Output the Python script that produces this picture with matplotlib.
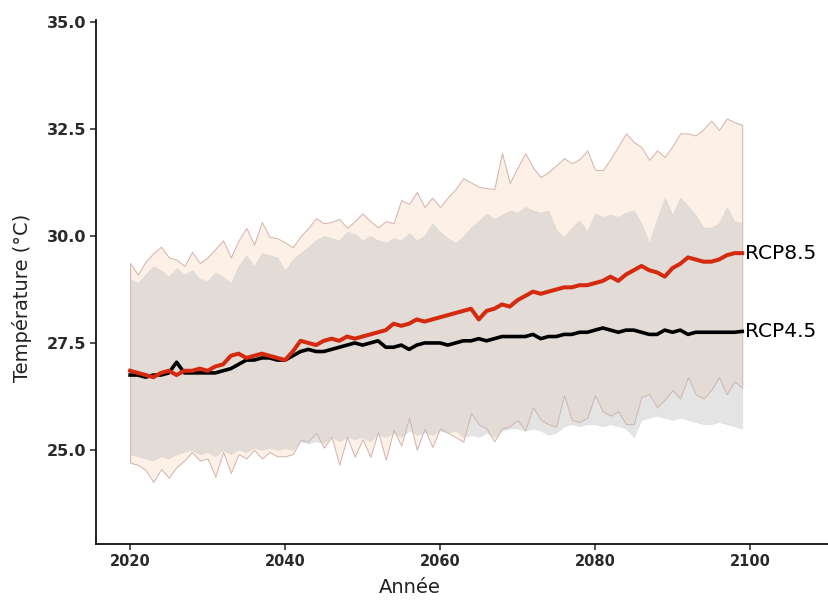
import numpy as np
import matplotlib
matplotlib.use("Agg")
import matplotlib.pyplot as plt

years = np.arange(2020, 2100)

rcp85_mean = [26.85, 26.80, 26.75, 26.70, 26.80, 26.85, 26.75, 26.85, 26.85, 26.90,
              26.85, 26.95, 27.00, 27.20, 27.25, 27.15, 27.20, 27.25, 27.20, 27.15,
              27.10, 27.30, 27.55, 27.50, 27.45, 27.55, 27.60, 27.55, 27.65, 27.60,
              27.65, 27.70, 27.75, 27.80, 27.95, 27.90, 27.95, 28.05, 28.00, 28.05,
              28.10, 28.15, 28.20, 28.25, 28.30, 28.05, 28.25, 28.30, 28.40, 28.35,
              28.50, 28.60, 28.70, 28.65, 28.70, 28.75, 28.80, 28.80, 28.85, 28.85,
              28.90, 28.95, 29.05, 28.95, 29.10, 29.20, 29.30, 29.20, 29.15, 29.05,
              29.25, 29.35, 29.50, 29.45, 29.40, 29.40, 29.45, 29.55, 29.60, 29.60]

rcp45_mean = [26.75, 26.75, 26.70, 26.75, 26.75, 26.80, 27.05, 26.80, 26.80, 26.80,
              26.80, 26.80, 26.85, 26.90, 27.00, 27.10, 27.10, 27.15, 27.15, 27.10,
              27.10, 27.20, 27.30, 27.35, 27.30, 27.30, 27.35, 27.40, 27.45, 27.50,
              27.45, 27.50, 27.55, 27.40, 27.40, 27.45, 27.35, 27.45, 27.50, 27.50,
              27.50, 27.45, 27.50, 27.55, 27.55, 27.60, 27.55, 27.60, 27.65, 27.65,
              27.65, 27.65, 27.70, 27.60, 27.65, 27.65, 27.70, 27.70, 27.75, 27.75,
              27.80, 27.85, 27.80, 27.75, 27.80, 27.80, 27.75, 27.70, 27.70, 27.80,
              27.75, 27.80, 27.70, 27.75, 27.75, 27.75, 27.75, 27.75, 27.75, 27.77]

rcp85_high = [29.37, 29.10, 29.40, 29.60, 29.75, 29.50, 29.45, 29.30, 29.63, 29.37,
              29.50, 29.70, 29.90, 29.50, 29.90, 30.19, 29.80, 30.33, 29.98, 29.95,
              29.85, 29.74, 30.00, 30.19, 30.42, 30.30, 30.33, 30.40, 30.19, 30.35,
              30.53, 30.35, 30.20, 30.35, 30.30, 30.84, 30.75, 31.03, 30.68, 30.90,
              30.68, 30.90, 31.10, 31.35, 31.25, 31.15, 31.12, 31.10, 31.94, 31.24,
              31.60, 31.94, 31.60, 31.38, 31.50, 31.65, 31.82, 31.70, 31.80, 32.00,
              31.55, 31.54, 31.80, 32.10, 32.40, 32.20, 32.08, 31.78, 32.00, 31.85,
              32.10, 32.40, 32.40, 32.35, 32.50, 32.70, 32.48, 32.75, 32.66, 32.60]

rcp45_high = [29.00, 28.90, 29.10, 29.30, 29.20, 29.05, 29.25, 29.10, 29.20, 29.00,
              28.95, 29.15, 29.05, 28.90, 29.30, 29.55, 29.30, 29.60, 29.55, 29.50,
              29.20, 29.45, 29.60, 29.75, 29.90, 30.00, 29.95, 29.90, 30.10, 30.05,
              29.90, 30.00, 29.90, 29.85, 29.95, 29.90, 30.07, 29.90, 30.00, 30.30,
              30.10, 29.95, 29.84, 30.00, 30.20, 30.35, 30.53, 30.40, 30.50, 30.60,
              30.55, 30.68, 30.60, 30.55, 30.60, 30.14, 29.98, 30.20, 30.37, 30.10,
              30.53, 30.45, 30.50, 30.45, 30.55, 30.60, 30.30, 29.84, 30.40, 30.90,
              30.50, 30.90, 30.70, 30.50, 30.20, 30.20, 30.30, 30.68, 30.35, 30.30]

rcp85_low = [24.70, 24.65, 24.53, 24.25, 24.55, 24.35, 24.60, 24.75, 24.95, 24.75,
             24.80, 24.37, 24.95, 24.46, 24.90, 24.80, 25.00, 24.80, 24.95, 24.85,
             24.85, 24.90, 25.23, 25.20, 25.40, 25.05, 25.30, 24.65, 25.30, 24.84,
             25.25, 24.84, 25.42, 24.77, 25.47, 25.10, 25.75, 25.00, 25.50, 25.07,
             25.50, 25.40, 25.30, 25.19, 25.86, 25.60, 25.50, 25.20, 25.50, 25.55,
             25.70, 25.45, 26.00, 25.70, 25.60, 25.54, 26.28, 25.70, 25.65, 25.75,
             26.28, 25.90, 25.80, 25.90, 25.60, 25.60, 26.24, 26.30, 26.00, 26.17,
             26.40, 26.20, 26.70, 26.30, 26.20, 26.40, 26.70, 26.30, 26.60, 26.45]

rcp45_low = [24.90, 24.85, 24.80, 24.75, 24.85, 24.80, 24.90, 24.95, 25.00, 24.90,
             24.95, 24.85, 25.00, 24.90, 25.00, 24.95, 25.05, 25.00, 25.05, 25.00,
             25.05, 25.00, 25.20, 25.15, 25.20, 25.15, 25.30, 25.20, 25.30, 25.25,
             25.30, 25.20, 25.35, 25.30, 25.40, 25.30, 25.45, 25.35, 25.40, 25.35,
             25.45, 25.40, 25.45, 25.30, 25.35, 25.30, 25.40, 25.30, 25.45, 25.50,
             25.50, 25.45, 25.50, 25.45, 25.35, 25.40, 25.55, 25.60, 25.55, 25.60,
             25.60, 25.55, 25.60, 25.55, 25.50, 25.30, 25.70, 25.75, 25.80, 25.75,
             25.70, 25.75, 25.70, 25.65, 25.60, 25.60, 25.65, 25.60, 25.55, 25.50]

yticks = [25.0, 27.5, 30.0, 32.5, 35.0]
xticks = [2020, 2040, 2060, 2080, 2100]

fig = plt.figure(figsize=(8.29, 6.03), dpi=100)
# axes box in pixels: left spine x=96, bottom spine y=544, top y=20
ax = fig.add_axes([96 / 829, 59 / 603, 733 / 829, 524 / 603])

ax.fill_between(years, rcp85_low, rcp85_high, facecolor="#fde6d6", alpha=0.6,
                edgecolor="#b9837d", linewidth=0.7)
ax.fill_between(years, rcp45_low, rcp45_high, facecolor="#bdbdbd", alpha=0.4,
                edgecolor="#cccccc", linewidth=0.5)

ax.plot(years, rcp45_mean, color="black", linewidth=2.6, solid_joinstyle="round")
ax.plot(years, rcp85_mean, color="#d42a10", linewidth=2.9, solid_joinstyle="round")

ax.text(years[-1] + 0.4, rcp85_mean[-1], "RCP8.5", ha="left", va="center",
        fontsize=14.5, color="black")
ax.text(years[-1] + 0.4, rcp45_mean[-1], "RCP4.5", ha="left", va="center",
        fontsize=14.5, color="black")

ax.set_xlim(2015.6, 2110.2)
ax.set_ylim(22.80, 35.05)
ax.set_xticks(xticks)
ax.set_yticks(yticks)
ax.set_xticklabels([str(x) for x in xticks], fontweight="bold", color="#2a2a2a", fontsize=10.5)
ax.set_yticklabels(["%.1f" % y for y in yticks], fontweight="bold", color="#2a2a2a", fontsize=11.5)
ax.tick_params(direction="out", length=4, width=1.1, color="#222222", pad=3)

for s in ["top", "right"]:
    ax.spines[s].set_visible(False)
for s in ["left", "bottom"]:
    ax.spines[s].set_linewidth(1.3)
    ax.spines[s].set_color("#111111")

ax.set_xlabel("Année", fontsize=14, color="#222222")
ax.set_ylabel("Température (°C)", fontsize=14, color="#222222")
ax.xaxis.set_label_coords((410 - 96) / 733, (544 - 578) / 524)
ax.yaxis.set_label_coords((32 - 96) / 733, (544 - 298) / 524)

fig.savefig("out.png", dpi=100)
